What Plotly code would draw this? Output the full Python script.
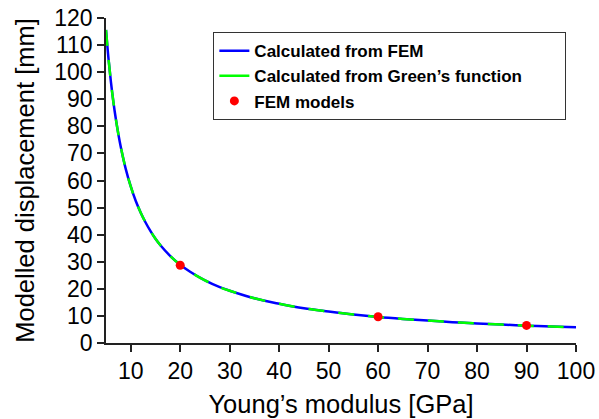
import plotly.graph_objects as go

# Young's modulus [GPa] along the curves
modulus = [5, 5.5, 6, 6.5, 7, 7.5, 8, 9, 10, 11, 12, 13, 14, 15, 16, 18, 20, 22,
           25, 28, 30, 35, 40, 45, 50, 55, 60, 65, 70, 75, 80, 85, 90, 95, 100]

# Displacement [mm] calculated from FEM
disp_fem = [115.6, 105.1, 96.3, 88.9, 82.6, 77.1, 72.3, 64.2, 57.8, 52.5, 48.2,
            44.5, 41.3, 38.5, 36.1, 32.1, 28.9, 26.3, 23.1, 20.6, 19.3, 16.5,
            14.5, 12.8, 11.6, 10.5, 9.6, 8.9, 8.3, 7.7, 7.2, 6.8, 6.4, 6.1, 5.8]

# Displacement [mm] calculated from Green's function
disp_green = [115.6, 105.1, 96.3, 88.9, 82.6, 77.1, 72.3, 64.2, 57.8, 52.5, 48.2,
              44.5, 41.3, 38.5, 36.1, 32.1, 28.9, 26.3, 23.1, 20.6, 19.3, 16.5,
              14.5, 12.8, 11.6, 10.5, 9.6, 8.9, 8.3, 7.7, 7.2, 6.8, 6.4, 6.1, 5.8]

# Individual FEM model runs
model_modulus = [20, 60, 90]
model_disp = [28.7, 9.7, 6.5]

x_ticks = [10, 20, 30, 40, 50, 60, 70, 80, 90, 100]
y_ticks = [0, 10, 20, 30, 40, 50, 60, 70, 80, 90, 100, 110, 120]

BLUE = "#0000FF"
GREEN = "#00FF00"
RED = "#FF0000"
FONT = "Liberation Sans, Arial, sans-serif"

# trailing non-breaking spaces give the legend box some right-hand padding
PAD = "\u00a0" * 8

fig = go.Figure()

# Curves: solid blue underneath, dashed green on top
fig.add_trace(go.Scatter(x=modulus, y=disp_fem, mode="lines", showlegend=False,
                         line=dict(color=BLUE, width=2.5, shape="spline")))
fig.add_trace(go.Scatter(x=modulus, y=disp_green, mode="lines", showlegend=False,
                         line=dict(color=GREEN, width=2.5, dash="16px,14px",
                                   shape="spline")))
fig.add_trace(go.Scatter(x=model_modulus, y=model_disp, mode="markers",
                         showlegend=False,
                         marker=dict(color=RED, size=9, line=dict(width=0))))

# Legend entries
fig.add_trace(go.Scatter(x=[None], y=[None], mode="lines", name="Calculated from FEM",
                         line=dict(color=BLUE, width=2.5)))
fig.add_trace(go.Scatter(x=[None], y=[None], mode="lines",
                         name="Calculated from Green\u2019s function" + PAD,
                         line=dict(color=GREEN, width=2.5)))
fig.add_trace(go.Scatter(x=[None], y=[None], mode="markers", name="FEM models",
                         marker=dict(color=RED, size=9, line=dict(width=0))))

axis_common = dict(
    showgrid=False, zeroline=False, showline=True, linecolor="#222", linewidth=1.5,
    ticks="outside", ticklen=7, tickwidth=1.5, tickcolor="#222",
    tickfont=dict(family=FONT, size=23, color="#000"),
)

fig.update_xaxes(range=[5, 100], tickvals=x_ticks,
                 title=dict(text="Young\u2019s modulus [GPa]",
                            font=dict(family=FONT, size=25.5, color="#000"),
                            standoff=12),
                 **axis_common)
fig.update_yaxes(range=[0, 120], tickvals=y_ticks,
                 title=dict(text="Modelled displacement [mm]",
                            font=dict(family=FONT, size=25.5, color="#000"),
                            standoff=12),
                 **axis_common)

fig.update_layout(
    width=599, height=419,
    margin=dict(l=106, r=23, t=18, b=76, autoexpand=False),
    plot_bgcolor="white", paper_bgcolor="white",
    legend=dict(x=0.228, y=0.957, xanchor="left", yanchor="top",
                bgcolor="white", bordercolor="#333", borderwidth=1.2,
                font=dict(family=FONT, size=17, color="#000", weight="bold"),
                itemwidth=30),
)

fig.write_html("out.html")
